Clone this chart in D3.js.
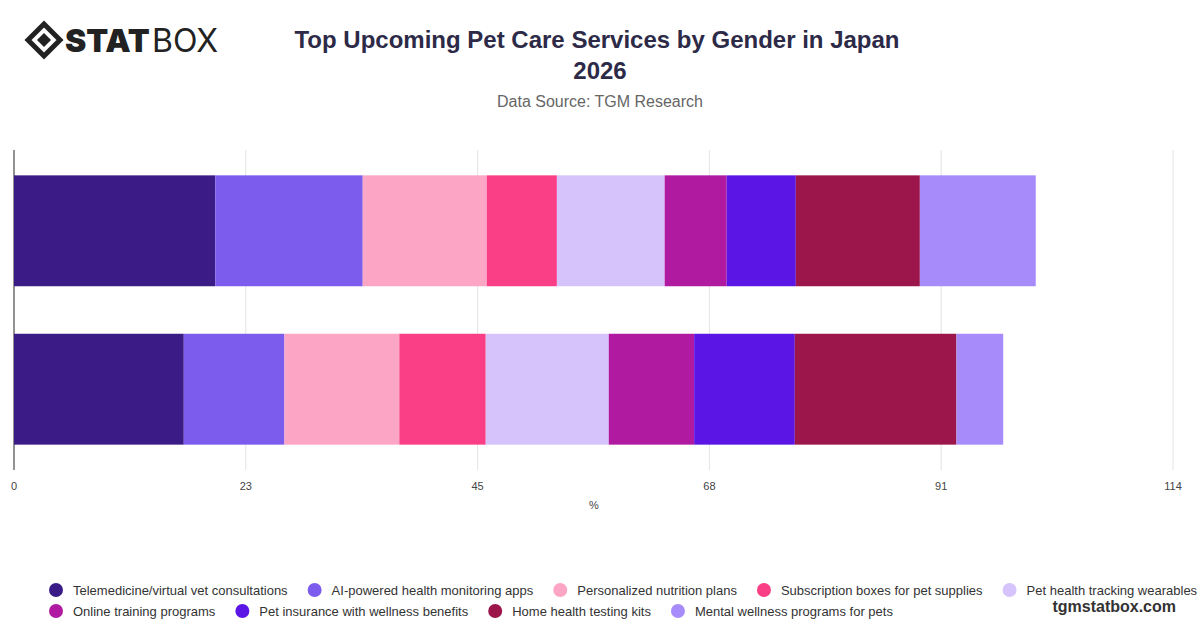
<!DOCTYPE html>
<html><head><meta charset="utf-8">
<script src="https://cdn.jsdelivr.net/npm/d3@7"></script>
<style>body{margin:0;background:#fff;font-family:"Liberation Sans",Arial,sans-serif}</style>
</head><body><svg id="c" width="1200" height="628"></svg>
<script>
const categories=["Male","Female"];
const seriesNames=["Telemedicine/virtual vet consultations","AI-powered health monitoring apps","Personalized nutrition plans","Subscription boxes for pet supplies","Pet health tracking wearables","Online training programs","Pet insurance with wellness benefits","Home health testing kits","Mental wellness programs for pets"];
const maleValues=[19.8,14.5,12.2,6.9,10.6,6.1,6.8,12.2,11.4];
const femaleValues=[16.7,9.9,11.3,8.5,12.1,8.4,9.9,15.9,4.6];
const colors=["#3b1c86","#7c5ced","#fca5c5","#fb3f86","#d6c3fb","#b01aa0","#5b16e6","#9c154b","#a78bfa"];
const tickValues=[0,22.8,45.6,68.4,91.2,114];
const tickLabels=["0","23","45","68","91","114"];

const svg=d3.select("#c");
const x=d3.scaleLinear().domain([0,114]).range([14,1173]);
const y=d3.scaleBand().domain(categories).range([150,470]).paddingInner(0.3).paddingOuter(0.16);
const grid=svg.append("g");
tickValues.forEach((t,i)=>{
  grid.append("line").attr("x1",x(t)).attr("x2",x(t)).attr("y1",150).attr("y2",470).attr("stroke","#e3e3e3");
  svg.append("text").attr("x",x(t)).attr("y",490).attr("text-anchor","middle").attr("font-size",11).attr("fill","#444").text(tickLabels[i]);
});
svg.append("line").attr("x1",x(0)).attr("x2",x(0)).attr("y1",150).attr("y2",470).attr("stroke","#333");
svg.append("text").attr("x",594).attr("y",509).attr("text-anchor","middle").attr("font-size",11).attr("fill","#444").text("%");
[maleValues,femaleValues].forEach((vals,ci)=>{
  let acc=0;
  vals.forEach((v,si)=>{
    svg.append("rect").attr("x",x(acc)).attr("width",x(acc+v)-x(acc)).attr("y",y(categories[ci])).attr("height",y.bandwidth()).attr("fill",colors[si]);
    acc+=v;
  });
});
svg.append("text").attr("x",597).attr("y",48).attr("text-anchor","middle").attr("font-size",24).attr("font-weight",700).attr("fill","#2d2a48").text("Top Upcoming Pet Care Services by Gender in Japan");
svg.append("text").attr("x",600).attr("y",79).attr("text-anchor","middle").attr("font-size",24).attr("font-weight",700).attr("fill","#2d2a48").text("2026");
svg.append("text").attr("x",600).attr("y",107).attr("text-anchor","middle").attr("font-size",16).attr("fill","#666").text("Data Source: TGM Research");
const lg=svg.append("g");
lg.append("path").attr("d","M44,24 L60,40 L44,56 L28,40 Z").attr("fill","none").attr("stroke","#222").attr("stroke-width",5);
lg.append("path").attr("d","M44,33 L51,40 L44,47 L37,40 Z").attr("fill","#222");
lg.append("text").attr("x",65).attr("y",52).attr("font-size",32).attr("font-weight",900).attr("font-family","Inter").attr("fill","#222").text("STAT");
lg.append("text").attr("x",152).attr("y",52).attr("font-size",32).attr("font-weight",400).attr("font-family","Inter").attr("fill","#222").text("BOX");
const rows=[[0,1,2,3,4],[5,6,7,8]];
rows.forEach((r,ri)=>{
  let xx=48;
  r.forEach(si=>{
    const g=svg.append("g");
    g.append("circle").attr("cx",xx+8).attr("cy",590+ri*21).attr("r",7).attr("fill",colors[si]);
    const t=g.append("text").attr("x",xx+25).attr("y",595+ri*21).attr("font-size",13).attr("fill","#333").text(seriesNames[si]);
    xx+=25+t.node().getComputedTextLength()+19;
  });
});
svg.append("text").attr("x",1176).attr("y",612).attr("text-anchor","end").attr("font-size",16).attr("font-weight",700).attr("fill","#333").text("tgmstatbox.com");
</script></body></html>
